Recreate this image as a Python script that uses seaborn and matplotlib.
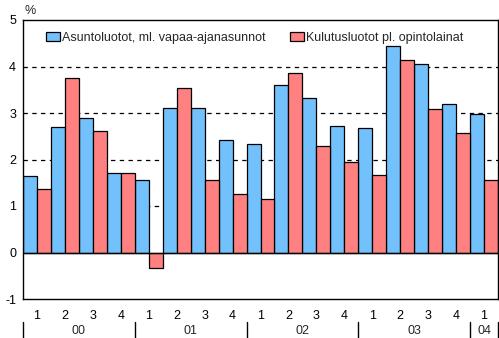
import matplotlib
matplotlib.use("Agg")
import matplotlib.pyplot as plt
import matplotlib.transforms as mtransforms
import pandas as pd
import seaborn as sns

# Quarterly growth of household loans, %
years = ["00", "01", "02", "03", "04"]
quarters = ["1", "2", "3", "4", "1", "2", "3", "4", "1", "2", "3", "4",
            "1", "2", "3", "4", "1"]
quarter_year = ["00"] * 4 + ["01"] * 4 + ["02"] * 4 + ["03"] * 4 + ["04"]
housing = [1.65, 2.69, 2.90, 1.70, 1.55, 3.10, 3.10, 2.43, 2.34, 3.61,
           3.33, 2.71, 2.67, 4.45, 4.05, 3.20, 2.97]
consumer = [1.37, 3.76, 2.62, 1.72, -0.33, 3.53, 1.55, 1.26, 1.14, 3.87,
            2.28, 1.95, 1.67, 4.15, 3.08, 2.58, 1.55]
series_names = ["Asuntoluotot, ml. vapaa-ajanasunnot",
                "Kulutusluotot pl. opintolainat"]
y_ticks = [-1, 0, 1, 2, 3, 4, 5]

periods = [f"{y}/{q}" for y, q in zip(quarter_year, quarters)]
df = pd.DataFrame({
    "period": periods * 2,
    "series": [series_names[0]] * len(periods) + [series_names[1]] * len(periods),
    "value": housing + consumer,
})

sns.set_theme(style="white")
plt.rcParams["font.family"] = ["Liberation Sans", "DejaVu Sans"]

fig = plt.figure(figsize=(4.99, 3.38), dpi=100)
ax = fig.add_axes([23 / 499, 1 - 299 / 338, 475 / 499, 279 / 338])

blue = "#73C1FC"
red = "#FF8080"
sns.barplot(data=df, x="period", y="value", hue="series", order=periods,
            hue_order=series_names, palette=[blue, red], width=1.0,
            saturation=1, edgecolor="black", linewidth=0.9, ax=ax, zorder=2)

ax.set_xlim(-0.5, len(periods) - 0.5)
ax.set_ylim(-1, 5)
ax.set_yticks(y_ticks)
ax.set_yticklabels([str(t) for t in y_ticks], fontsize=9)
ax.set_xticks(range(len(periods)))
ax.set_xticklabels(quarters, fontsize=9)
ax.tick_params(axis="both", length=0, colors="black")
ax.tick_params(axis="y", pad=5)
ax.tick_params(axis="x", pad=8)
ax.set_xlabel("")
ax.set_ylabel("")

for t in [1, 2, 3, 4]:
    ax.axhline(t, color="black", linestyle=(0, (3.5, 3.5)), linewidth=0.9, zorder=1)
ax.axhline(0, color="black", linewidth=1.0, zorder=3)

for s in ax.spines.values():
    s.set_color("black")
    s.set_linewidth(1.0)

ax.text(0.003, 1.01, "%", transform=ax.transAxes, fontsize=9, ha="left", va="bottom")

# Year labels and separators below the quarter labels
trans = mtransforms.blended_transform_factory(ax.transData, ax.transAxes)
bounds = [-0.5, 3.5, 7.5, 11.5, 15.5, 16.5]
for i, yr in enumerate(years):
    ax.text((bounds[i] + bounds[i + 1]) / 2, -0.113, yr, transform=trans,
            ha="center", va="center", fontsize=9)
for b in bounds:
    ax.plot([b, b], [-0.083, -0.145], transform=trans, color="black",
            linewidth=1.0, clip_on=False)

handles, labels = ax.get_legend_handles_labels()
ax.legend(handles, labels, loc="upper left", bbox_to_anchor=(0.03, 0.99),
          ncol=2, frameon=False, fontsize=9, handlelength=1.1,
          handleheight=0.8, handletextpad=0.15, columnspacing=2.0,
          borderaxespad=0.3)

fig.savefig("out.png", dpi=100)
